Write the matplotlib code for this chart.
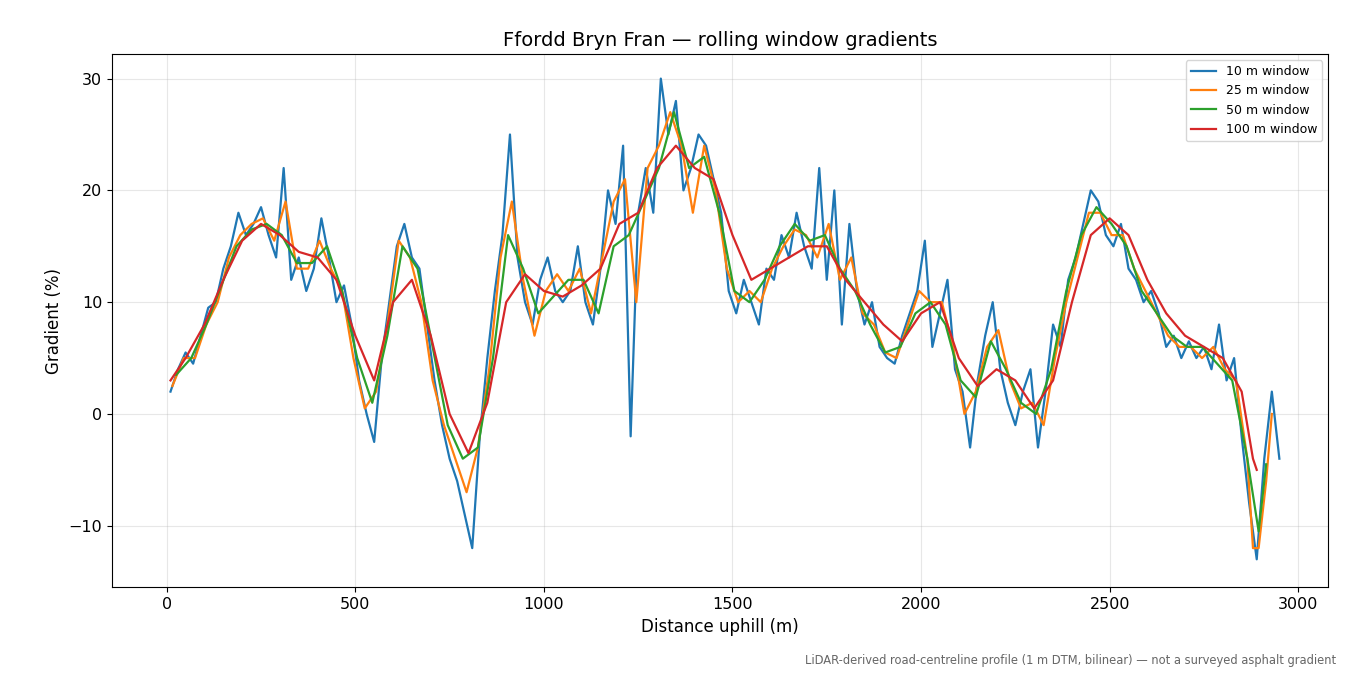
import matplotlib.pyplot as plt
import numpy as np

# 10 m window, sampled every 20 m starting at 10 m
grad_10 = [2, 4, 5.5, 4.5, 7, 9.5, 10, 13, 15, 18, 16, 17, 18.5, 16, 14, 22, 12, 14, 11, 13,
           17.5, 14, 10, 11.5, 8, 3, 0, -2.5, 5, 10, 15, 17, 14, 13, 8, 3, -1, -4, -6, -9,
           -12, -2, 5, 11, 16, 25, 14, 10, 8, 12, 14, 11, 10, 11, 15, 10, 8, 13, 20, 17,
           24, -2, 18, 22, 18, 30, 25, 28, 20, 22, 25, 24, 21, 18, 11, 9, 12, 10, 8, 13,
           12, 16, 14, 18, 15, 13, 22, 12, 20, 8, 17, 11, 8, 10, 6, 5, 4.5, 7, 9, 11,
           15.5, 6, 9, 12, 4, 2, -3, 3, 7, 10, 4, 1, -1, 2, 4, -3, 2, 8, 6, 12,
           14, 17, 20, 19, 16, 15, 17, 13, 12, 10, 11, 9, 6, 7, 5, 6.5, 5, 6, 4, 8,
           3, 5, -2, -8, -13, -4, 2, -4]
dist_10 = 10 + 20 * np.arange(len(grad_10))

dist_25 = [15, 45, 75, 105, 135, 165, 195, 225, 255, 285, 315, 345, 375, 405, 435, 465, 495, 525,
           555, 585, 615, 645, 675, 705, 735, 765, 795, 825, 855, 885, 915, 945, 975, 1005, 1035,
           1065, 1095, 1125, 1155, 1185, 1215, 1245, 1275, 1305, 1335, 1365, 1395, 1425, 1455,
           1485, 1515, 1545, 1575, 1605, 1635, 1665, 1695, 1725, 1755, 1785, 1815, 1845, 1875,
           1905, 1935, 1965, 1995, 2025, 2055, 2085, 2115, 2145, 2175, 2205, 2235, 2265, 2295,
           2325, 2355, 2385, 2415, 2445, 2475, 2505, 2535, 2565, 2595, 2625, 2655, 2685, 2715,
           2745, 2775, 2805, 2835, 2865, 2880, 2895, 2915, 2930]
grad_25 = [2.5, 5, 5, 8, 10, 14, 16, 17, 17.5, 15.5, 19, 13, 13, 15.5, 13, 11, 5, 0.5,
           2, 8, 15.5, 14, 10, 3, -1, -4, -7, -3, 4, 14, 19, 12, 7, 11, 12.5,
           11, 13, 9, 14, 19, 21, 10, 22, 24, 27, 24, 18, 24, 20,
           13, 10, 11, 10, 13, 15, 16.5, 16, 14, 17, 12, 14, 9, 8,
           5.5, 5, 8, 11, 10, 10, 6, 0, 2, 6, 7.5, 3, 0.5, 1,
           -1, 5, 10, 14, 18, 18, 16, 16, 13, 11, 9, 7, 6, 6,
           5, 6, 4, 3, -4, -12, -12, -6, 0]

dist_50 = [25, 65, 105, 145, 185, 225, 265, 305, 345, 385, 425, 465, 505, 545, 585, 625, 665, 705,
           745, 785, 825, 865, 905, 945, 985, 1025, 1065, 1105, 1145, 1185, 1225, 1265, 1305,
           1345, 1385, 1425, 1465, 1505, 1545, 1585, 1625, 1665, 1705, 1745, 1785, 1825, 1865,
           1905, 1945, 1985, 2025, 2065, 2105, 2145, 2185, 2225, 2265, 2305, 2345, 2385, 2425,
           2465, 2505, 2545, 2585, 2625, 2665, 2705, 2745, 2785, 2825, 2865, 2895, 2915]
grad_50 = [3.5, 5, 8, 11.5, 15, 16.5, 17, 16, 13.5, 13.5, 15, 11, 5, 1, 7, 15, 13, 6,
           -1, -4, -3, 5, 16, 13, 9, 10.5, 12, 12, 9, 15, 16, 19, 22,
           27, 22, 23, 18, 11, 10, 12, 15, 17, 15.5, 16, 13, 11, 8,
           5.5, 6, 9, 10, 8, 3, 1.5, 6.5, 4, 1, 0, 4, 11, 16,
           18.5, 17, 15, 11, 9, 7, 6, 6, 4.5, 3, -4, -10.5, -4.5]

dist_100 = [10, 50, 100, 150, 200, 250, 300, 350, 400, 450, 500, 550, 600, 650, 700, 750, 800,
            850, 900, 950, 1000, 1050, 1100, 1150, 1200, 1250, 1300, 1350, 1400, 1450, 1500,
            1550, 1600, 1650, 1700, 1750, 1800, 1850, 1900, 1950, 2000, 2050, 2100, 2150, 2200,
            2250, 2300, 2350, 2400, 2450, 2500, 2550, 2600, 2650, 2700, 2750, 2800, 2850, 2880, 2890]
grad_100 = [3, 5, 8, 12, 15.5, 17, 16, 14.5, 14, 12, 7, 3, 10, 12, 7, 0, -3.5,
            1, 10, 12.5, 11, 10.5, 11.5, 13, 17, 18, 22, 24, 22, 21, 16,
            12, 13, 14, 15, 15, 12, 10, 8, 6.5, 9, 10, 5, 2.5, 4,
            3, 0.5, 3, 10, 16, 17.5, 16, 12, 9, 7, 6, 5, 2, -4, -5]

fig, ax = plt.subplots(figsize=(13.5, 6.75), dpi=100)
ax.plot(dist_10, grad_10, color='#1f77b4', lw=1.6, label='10 m window')
ax.plot(dist_25, grad_25, color='#ff7f0e', lw=1.6, label='25 m window')
ax.plot(dist_50, grad_50, color='#2ca02c', lw=1.6, label='50 m window')
ax.plot(dist_100, grad_100, color='#d62728', lw=1.6, label='100 m window')

ax.set_xlim(-145, 3080)
ax.set_ylim(-15.5, 32.2)
ax.set_title('Ffordd Bryn Fran — rolling window gradients', fontsize=14)
ax.set_xlabel('Distance uphill (m)', fontsize=12)
ax.set_ylabel('Gradient (%)', fontsize=12)
ax.tick_params(labelsize=11.5)
ax.grid(alpha=0.3)
ax.legend(loc='upper right', fontsize=9)
fig.text(0.99, 0.012, 'LiDAR-derived road-centreline profile (1 m DTM, bilinear) — not a surveyed asphalt gradient',
         ha='right', va='bottom', fontsize=8.3, color='#666666')
fig.subplots_adjust(left=0.083, right=0.984, top=0.92, bottom=0.13)
fig.savefig('out.png')
